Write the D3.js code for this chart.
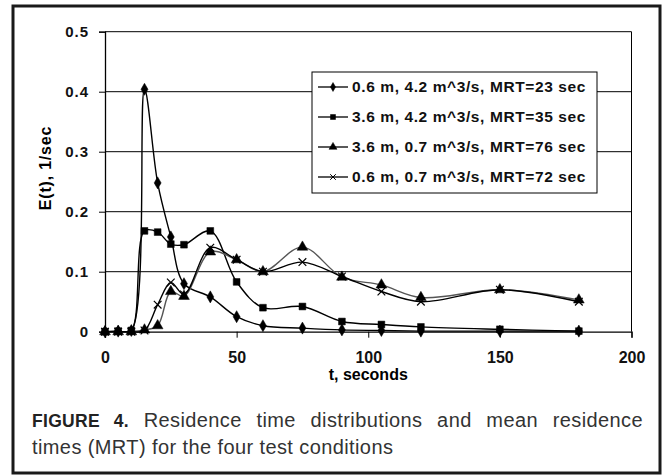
<!DOCTYPE html>
<script src="https://d3js.org/d3.v7.min.js"></script>

<style>
body {margin: 0; background: white;}
text {font-family: "Liberation Sans", Arial, sans-serif;}
.tick text {font-weight: bold; font-size: 15px; fill: #111;}
.grid line {stroke: black; stroke-width: 1;}
.legend text {font-weight: bold; font-size: 15.5px; fill: #111; letter-spacing: 0.6px;}
.caption {font-size: 20px; fill: #333; letter-spacing: 0.4px;}
</style>

<svg width="663" height="476"></svg>

<script>
var svg = d3.select("svg");

// sampling times, seconds
var times = [0, 5, 10, 15, 20, 25, 30, 40, 50, 60, 75, 90, 105, 120, 150, 180];

// E(t), 1/sec
var eDeep0 = [0, 0.001, 0.002, 0.404, 0.248, 0.158, 0.080, 0.058, 0.025, 0.010, 0.006, 0.003, 0.002, 0.001, 0.001, 0.001];
var eDeep1 = [0, 0.001, 0.002, 0.168, 0.166, 0.146, 0.145, 0.168, 0.083, 0.040, 0.042, 0.017, 0.012, 0.008, 0.004, 0.001];
var eDeep2 = [0, 0, 0, 0.003, 0.010, 0.067, 0.059, 0.133, 0.120, 0.100, 0.141, 0.091, 0.078, 0.057, 0.070, 0.053];
var eDeep3 = [0, 0, 0, 0.002, 0.045, 0.082, 0.062, 0.140, 0.120, 0.100, 0.116, 0.092, 0.067, 0.050, 0.070, 0.050];

var seriesNames = [
    "0.6 m, 4.2 m^3/s, MRT=23 sec",
    "3.6 m, 4.2 m^3/s, MRT=35 sec",
    "3.6 m, 0.7 m^3/s, MRT=76 sec",
    "0.6 m, 0.7 m^3/s, MRT=72 sec"
];

var xTicks = [0, 50, 100, 150, 200];
var yTicks = [0, 0.1, 0.2, 0.3, 0.4, 0.5];

var symTimes = d3.symbolTimes || d3.symbolX;
var series = [
    {name: seriesNames[0], values: eDeep0, sym: d3.symbolDiamond, size: 42, fill: "black", stroke: "black"},
    {name: seriesNames[1], values: eDeep1, sym: d3.symbolSquare, size: 46, fill: "black", stroke: "black"},
    {name: seriesNames[2], values: eDeep2, sym: d3.symbolTriangle, size: 50, fill: "black", stroke: "#555"},
    {name: seriesNames[3], values: eDeep3, sym: symTimes, size: 40, fill: "none", stroke: "black"}
];

var x = d3.scaleLinear().domain([0, 200]).range([105, 631.5]);
var y = d3.scaleLinear().domain([0, 0.5]).range([331.7, 31.7]);

// outer frame
svg.append("rect")
    .attr("x", 13).attr("y", 6)
    .attr("width", 647).attr("height", 467)
    .attr("fill", "none")
    .attr("stroke", "#1a1a1a")
    .attr("stroke-width", 3);

// gridlines
svg.append("g").attr("class", "grid")
    .selectAll("line").data(yTicks.slice(1)).enter().append("line")
    .attr("x1", x(0)).attr("x2", x(200))
    .attr("y1", function(d) { return y(d); })
    .attr("y2", function(d) { return y(d); });

// plot border (right side)
svg.append("line")
    .attr("x1", x(200)).attr("x2", x(200))
    .attr("y1", y(0.5)).attr("y2", y(0))
    .attr("stroke", "black");

var xAxis = svg.append("g")
    .attr("transform", "translate(0," + y(0) + ")")
    .call(d3.axisBottom(x).tickValues(xTicks).tickSize(6).tickPadding(14).tickFormat(d3.format("d")));
xAxis.selectAll("text").style("font-size", "16px");

var yAxis = svg.append("g")
    .attr("transform", "translate(" + x(0) + ",0)")
    .call(d3.axisLeft(y).tickValues(yTicks).tickSize(6).tickPadding(10)
        .tickFormat(function(d) { return d === 0 ? "0" : d3.format(".1f")(d); }));
yAxis.selectAll("text").style("letter-spacing", "1px");

svg.selectAll(".domain").attr("stroke", "black").attr("stroke-width", 1.3);
svg.selectAll(".tick line").attr("stroke", "black");

// curves
var line = d3.line()
    .x(function(d) { return x(d[0]); })
    .y(function(d) { return y(d[1]); })
    .curve(d3.curveCatmullRom.alpha(0.5));

series.forEach(function(s) {
    var pts = times.map(function(t, i) { return [t, s.values[i]]; });
    svg.append("path")
        .datum(pts)
        .attr("d", line)
        .attr("fill", "none")
        .attr("stroke", s.stroke)
        .attr("stroke-width", 1.4);
    svg.append("g").selectAll("path").data(pts).enter().append("path")
        .attr("transform", function(d) { return "translate(" + x(d[0]) + "," + y(d[1]) + ")"; })
        .attr("d", d3.symbol().type(s.sym).size(s.size))
        .attr("fill", s.fill)
        .attr("stroke", "black")
        .attr("stroke-width", s.fill === "none" ? 1.2 : 0.5);
});

// legend
var legend = svg.append("g").attr("class", "legend");
legend.append("rect")
    .attr("x", 312).attr("y", 72)
    .attr("width", 285).attr("height", 121)
    .attr("fill", "white")
    .attr("stroke", "black");

var row = legend.selectAll(".row").data(series).enter().append("g")
    .attr("class", "row")
    .attr("transform", function(d, i) { return "translate(318," + (87 + i * 30) + ")"; });
row.append("line")
    .attr("x1", 0).attr("x2", 30)
    .attr("stroke", "black").attr("stroke-width", 1.3);
row.append("path")
    .attr("transform", "translate(15,0)")
    .attr("d", function(d) { return d3.symbol().type(d.sym).size(d.size * 0.55)(); })
    .attr("fill", function(d) { return d.fill; })
    .attr("stroke", "black")
    .attr("stroke-width", function(d) { return d.fill === "none" ? 1 : 0.5; });
row.append("text")
    .attr("x", 34).attr("dy", "0.35em")
    .text(function(d) { return d.name; });

// axis titles
svg.append("text")
    .attr("transform", "translate(51,168) rotate(-90)")
    .attr("text-anchor", "middle")
    .style("font-weight", "bold").style("font-size", "16px").style("letter-spacing", "0.8px")
    .text("E(t), 1/sec");

svg.append("text")
    .attr("x", x(100)).attr("y", 380)
    .attr("text-anchor", "middle")
    .style("font-weight", "bold").style("font-size", "16px")
    .text("t, seconds");

// caption
var cap1 = svg.append("text").attr("class", "caption")
    .attr("x", 32).attr("y", 427);
cap1.append("tspan").style("font-weight", "bold").style("font-size", "17.5px").style("letter-spacing", "0.3px")
    .style("fill", "#222").text("FIGURE 4.");
cap1.append("tspan").text("  Residence time distributions and mean residence");
var len = cap1.node().getComputedTextLength();
cap1.style("word-spacing", Math.max(0, (643 - 32 - len) / 7) + "px");

svg.append("text").attr("class", "caption")
    .attr("x", 32).attr("y", 454)
    .text("times (MRT) for the four test conditions");
</script>
